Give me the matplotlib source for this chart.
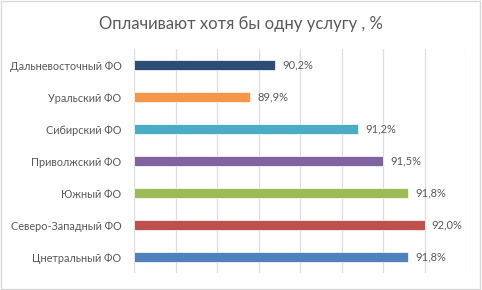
import matplotlib.pyplot as plt
from matplotlib.patches import Rectangle

# Data (bottom to top, as drawn)
regions = ["Цнетральный ФО", "Северо-Западный ФО", "Южный ФО", "Приволжский ФО",
           "Сибирский ФО", "Уральский ФО", "Дальневосточный ФО"]
values = [91.8, 92.0, 91.8, 91.5, 91.2, 89.9, 90.2]
value_labels = ["91,8%", "92,0%", "91,8%", "91,5%", "91,2%", "89,9%", "90,2%"]
colors = ["#4F81BD", "#C0504D", "#9BBB59", "#8064A2", "#4BACC6", "#F79646", "#2C4D75"]

plt.rcParams['font.family'] = ['Lato', 'DejaVu Sans']

fig = plt.figure(figsize=(4.82, 2.90), dpi=100)
ax = fig.add_axes([134 / 482, 1 - 273 / 290, (466 - 134) / 482, (273 - 49) / 290])

x_min = 88.5
ax.barh(range(len(regions)), [v - x_min for v in values], left=x_min, height=0.31,
        color=colors, edgecolor="white", linewidth=0.5, zorder=3)

for i, (v, lab) in enumerate(zip(values, value_labels)):
    ax.text(v + 0.085, i, lab, va="center", ha="left", fontsize=8, color="#595959")

ax.set_xlim(x_min, 92.5)
ax.set_ylim(-0.5, len(regions) - 0.5)
ax.set_xticks([88.5 + 0.5 * k for k in range(9)])
ax.xaxis.grid(True, color="#DDDDDD", linewidth=0.9, zorder=0)
ax.tick_params(axis="x", length=0, labelbottom=False)
ax.tick_params(axis="y", length=0, pad=9)
ax.set_yticks(range(len(regions)))
ax.set_yticklabels(regions, fontsize=7.8, color="#595959")
for s in ax.spines.values():
    s.set_visible(False)

fig.text(0.5, 1 - 24 / 290, "Оплачивают хотя бы одну услугу , %", ha="center", va="center",
         fontsize=12, color="#595959")

# light frame around the chart area
fig.patches.append(Rectangle((0.002, 0.003), 0.994, 0.994, transform=fig.transFigure,
                             fill=False, edgecolor="#D9D9D9", linewidth=1))

fig.savefig("out.png", dpi=100)
